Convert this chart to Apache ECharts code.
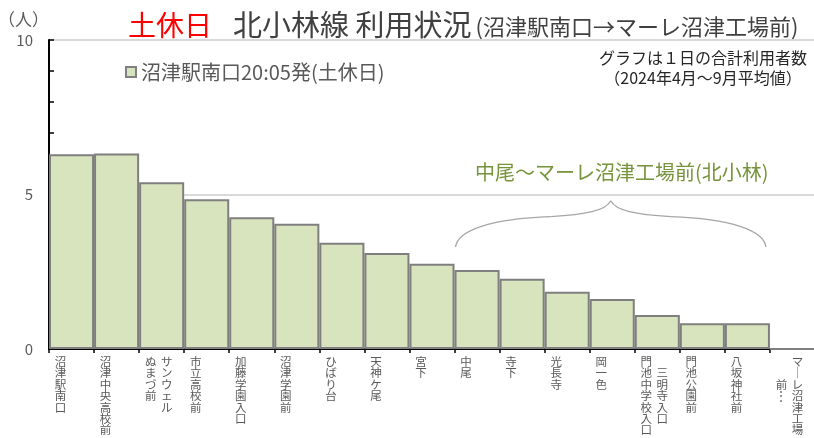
<!DOCTYPE html>
<html>
<head>
<meta charset="utf-8">
<script src="https://cdn.jsdelivr.net/npm/echarts@6/dist/echarts.min.js"></script>
<style>
html,body{margin:0;padding:0;background:#fff;}
#main{width:814px;height:438px;}
</style>
</head>
<body>
<div id="main"></div>
<script>
// ---- data ----
const categories = [
  '沼津駅南口', '沼津中央高校前', 'サンウェル\nぬまづ前', '市立高校前', '加藤学園入口',
  '沼津学園前', 'ひばり台', '天神ケ尾', '宮下', '中尾', '寺下', '光長寺', '岡一色',
  '三明寺入口\n門池中学校入口', '門池公園前', '八坂神社前', 'マーレ沼津工場\n前…'
];
const riders = [6.30, 6.33, 5.40, 4.85, 4.26, 4.05, 3.44, 3.11, 2.76, 2.56, 2.27, 1.85, 1.62, 1.10, 0.83, 0.83, 0];
const seriesName = '沼津駅南口20:05発(土休日)';
const yMin = 0, yMax = 10, yTickStep = 1, yLabelStep = 5;

// annotation (brace over 中尾〜八坂神社前)
const braceFrom = 9, braceTo = 15;
const braceTipValue = 4.8, braceEndValue = 3.3, braceTextValue = 5.7;
const braceText = '中尾～マーレ沼津工場前(北小林)';
const noteText = 'グラフは１日の合計利用者数\n（2024年4月～9月平均値）';

const FONT = '"Noto Sans CJK JP", "Noto Sans", sans-serif';

function vertical(value) {
  const lines = String(value).split('\n').map(s => Array.from(s.replace(/ー/g, '｜').replace(/…/g, '⋮')));
  let left, right;
  if (lines.length === 1) { left = lines[0]; right = []; }
  else { right = lines[0]; left = lines[1]; }
  const n = Math.max(left.length, right.length);
  const offL = Math.floor((n - left.length) / 2);
  const offR = Math.floor((n - right.length) / 2);
  const rows = [];
  for (let i = 0; i < n; i++) {
    const l = left[i - offL] || ' ';
    const r = right[i - offR] || ' ';
    rows.push('{c|' + l + '}{g| }{c|' + r + '}{p| }');
  }
  return rows.join('\n');
}

const chart = echarts.init(document.getElementById('main'), null, {renderer: 'canvas'});

const option = {
  animation: false,
  backgroundColor: '#ffffff',
  textStyle: {fontFamily: FONT},
  title: {
    text: '{r|土休日}{g|北小林線 利用状況}{s|(沼津駅南口→マーレ沼津工場前)}',
    left: 128, top: 8, padding: 0,
    textStyle: {
      fontFamily: FONT, fontWeight: 'normal',
      rich: {
        r: {color: '#ff0000', fontSize: 28, fontWeight: 'normal', fontFamily: FONT, padding: [0, 21, 0, 0], lineHeight: 34},
        g: {color: '#404040', fontSize: 29, fontWeight: 'normal', fontFamily: FONT, lineHeight: 34},
        s: {color: '#404040', fontSize: 22, fontWeight: 'normal', fontFamily: FONT, lineHeight: 34, padding: [3, 0, 0, 4]}
      }
    }
  },
  legend: {
    left: 125, top: 62, padding: 0,
    icon: 'rect', itemWidth: 10, itemHeight: 10,
    textStyle: {color: '#595959', fontSize: 20, fontFamily: FONT},
    data: [seriesName]
  },
  grid: {left: 49, right: -1, top: 40, bottom: 89, containLabel: false, outerBoundsMode: 'none'},
  xAxis: {
    type: 'category',
    data: categories,
    axisLine: {lineStyle: {color: '#000', width: 2}},
    axisTick: {show: true, length: 4, lineStyle: {color: '#000', width: 1.5}},
    axisLabel: {
      interval: 0, margin: 7, color: '#595959',
      verticalAlign: 'top',
      formatter: vertical,
      rich: {
        c: {width: 12, align: 'center', fontSize: 11.5, lineHeight: 11.4, color: '#595959', fontFamily: FONT},
        g: {width: 4, align: 'center', fontSize: 11.5, lineHeight: 11.4},
        p: {width: 6, align: 'center', fontSize: 11.5, lineHeight: 11.4}
      }
    },
    splitLine: {show: false}
  },
  yAxis: [{
    type: 'value', min: yMin, max: yMax, interval: yTickStep,
    name: '（人）', nameLocation: 'end', nameGap: 12,
    nameTextStyle: {color: '#595959', fontSize: 17, fontFamily: FONT, align: 'right'},
    axisLine: {show: true, lineStyle: {color: '#000', width: 2}},
    axisTick: {show: true, inside: true, length: 5, lineStyle: {color: '#000', width: 1.5}},
    axisLabel: {
      color: '#595959', fontSize: 15, margin: 16, fontFamily: FONT,
      formatter: v => (v % yLabelStep === 0 ? String(v) : '')
    },
    splitLine: {show: false}
  }, {
    type: 'value', min: yMin, max: yMax, interval: yLabelStep, position: 'left',
    axisLine: {show: false}, axisTick: {show: false}, axisLabel: {show: false},
    splitLine: {show: true, lineStyle: {color: '#d9d9d9', width: 2}}
  }],
  series: [{
    name: seriesName,
    type: 'bar',
    yAxisIndex: 0,
    data: riders,
    barCategoryGap: '0%',
    itemStyle: {color: '#d7e4bd', borderColor: '#7f7f7f', borderWidth: 2}
  }]
};

chart.setOption(option);

// Build brace annotation from the chart's own scales
const cx = i => chart.convertToPixel({xAxisIndex: 0}, i);
const py = v => chart.convertToPixel({yAxisIndex: 0}, v);
const band = cx(1) - cx(0);
const x0 = cx(braceFrom) - band / 2 + 1;
const x1 = cx(braceTo) + band / 2 - 4;
const tipX = (x0 + x1) / 2, tipY = py(braceTipValue), endY = py(braceEndValue);
const W = (x1 - x0) / 2, H = endY - tipY;
const P = (u, v) => [tipX + u * W, tipY + v * H];
function curve(a, b, c, d) {
  const A = P(a[0], a[1]), B = P(b[0], b[1]), C = P(c[0], c[1]), D = P(d[0], d[1]);
  return {
    type: 'bezierCurve',
    shape: {x1: A[0], y1: A[1], cpx1: B[0], cpy1: B[1], cpx2: C[0], cpy2: C[1], x2: D[0], y2: D[1]},
    style: {stroke: '#a6a6a6', lineWidth: 1.3, fill: null},
    silent: true
  };
}
const seg1 = [[-1, 1], [-0.987, 0.644], [-0.774, 0.386], [-0.387, 0.343]];
const seg2 = [[-0.387, 0.343], [-0.161, 0.300], [-0.032, 0.215], [0, 0]];
const mirror = s => s.map(p => [-p[0], p[1]]);

chart.setOption({
  graphic: [
    curve(...seg1), curve(...seg2), curve(...mirror(seg1)), curve(...mirror(seg2)),
    {
      type: 'text', x: tipX + 11, y: py(braceTextValue), silent: true,
      style: {text: braceText, fill: '#77933c', fontSize: 20, fontFamily: FONT, align: 'center', verticalAlign: 'middle'}
    },
    {
      type: 'text', x: 703, y: 48, silent: true,
      style: {text: noteText, fill: '#262626', fontSize: 16, lineHeight: 20, fontFamily: FONT, align: 'center', verticalAlign: 'top'}
    }
  ]
});
</script>
</body>
</html>
